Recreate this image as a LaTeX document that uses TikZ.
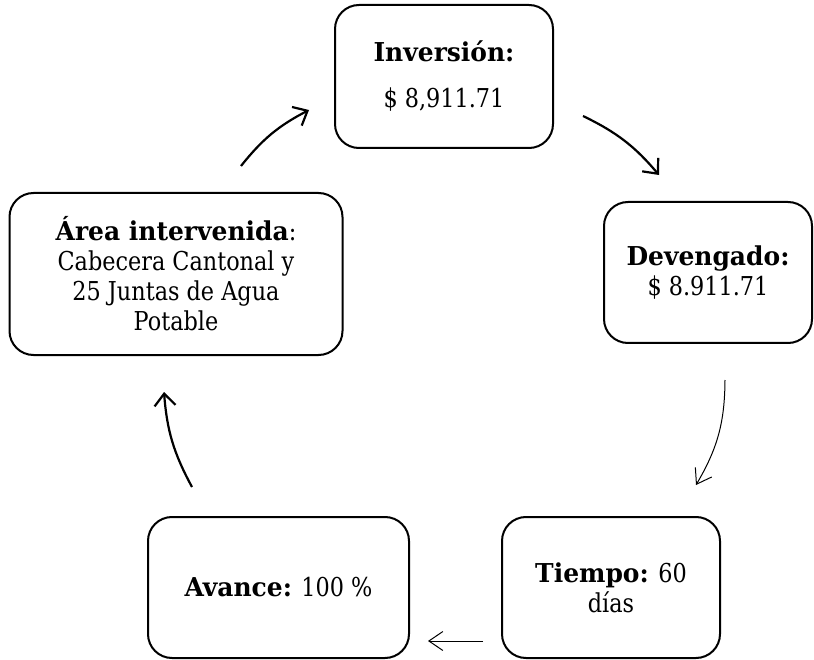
\documentclass[tikz,border=0pt]{standalone}
\usepackage{fontspec}
\setmainfont{DejaVu Serif}[FakeStretch=0.86, BoldFeatures={FakeStretch=0.96}]
\usetikzlibrary{arrows.meta}
\begin{document}
\begin{tikzpicture}[x=1pt,y=-1pt,
  box/.style={draw, line width=2pt, rounded corners=24pt, align=center, inner sep=0pt,
    font=\fontsize{26}{30}\selectfont},
  thickarrow/.style={line width=2.2pt, -{Straight Barb[length=12pt,width=21pt,line width=2.2pt]}},
  thinarrow/.style={line width=1pt, -{Straight Barb[length=14pt,width=19pt,line width=1pt]}}]
\useasboundingbox (0,0) rectangle (814,660);
\node[box, minimum width=218pt, minimum height=143pt] (inv) at (444,76.5)
  {\textbf{Inversión:}\\[16pt]\$ 8,911.71};
\node[box, minimum width=208pt, minimum height=141pt] (dev) at (708,272.5)
  {\textbf{Devengado:}\\\$ 8.911.71};
\node[box, minimum width=333pt, minimum height=162pt] (area) at (176,274)
  {\textbf{Área intervenida}:\\Cabecera Cantonal y\\25 Juntas de Agua\\Potable};
\node[box, minimum width=261pt, minimum height=141pt] (avance) at (278.5,587.5)
  {\textbf{Avance:} 100 \%};
\node[box, minimum width=218pt, minimum height=141pt] (tiempo) at (611,587.5)
  {\textbf{Tiempo:} 60\\días};
% connector end points
\coordinate (a1) at (241,166); \coordinate (a2) at (309,110);
\coordinate (b1) at (583,116); \coordinate (b2) at (659,175);
\coordinate (c1) at (725,380); \coordinate (c2) at (696,485);
\coordinate (d1) at (483,641); \coordinate (d2) at (428,641);
\coordinate (e1) at (192,487); \coordinate (e2) at (164,392);
\draw[thickarrow] (a1) to[bend left=12] (a2);
\draw[thickarrow] (b1) to[bend left=12] (b2);
\draw[thinarrow] (c1) to[bend left=15] (c2);
\draw[thinarrow] (d1) -- (d2);
\draw[thickarrow] (e1) to[bend left=12] (e2);
\end{tikzpicture}
\end{document}
